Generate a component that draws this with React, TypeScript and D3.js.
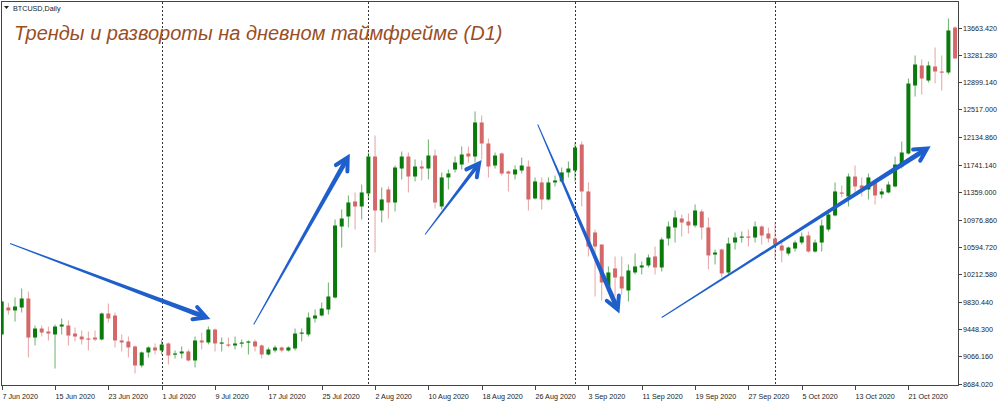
import React from 'react';
import * as d3 from 'd3';

// Daily BTCUSD candles, 7 Jun 2020 .. 28 Oct 2020 (one per day)
const opens = [
  9370, 9747, 9706, 9747, 9873, 9327, 9453, 9411, 9370, 9481, 9495, 9383, 9341, 9314, 9327, 9300,
  9663, 9635, 9286, 9272, 9202, 8936, 9118, 9188, 9146, 9244, 9090, 9104, 9132, 9006, 9286, 9258,
  9439, 9244, 9230, 9216, 9244, 9258, 9272, 9216, 9090, 9146, 9188, 9146, 9174, 9383, 9370, 9593,
  9635, 9719, 9887, 10880, 11020, 11230, 11160, 11342, 11859, 11104, 11398, 11216, 11691, 11859, 11579, 11719,
  11691, 11873, 11160, 11566, 11677, 11747, 11901, 11859, 12335, 12041, 11733, 11901, 11650, 11608, 11663, 11719,
  11272, 11496, 11258, 11496, 11510, 11636, 11663, 12027, 11370, 10796, 10628, 10041, 10293, 10181, 9985, 10237,
  10307, 10335, 10461, 10307, 10712, 10866, 10992, 10950, 10894, 11090, 10866, 10488, 10558, 10237, 10656, 10726,
  10740, 10726, 10880, 10782, 10712, 10614, 10502, 10572, 10656, 10754, 10530, 10656, 10838, 11034, 11356, 11300,
  11579, 11454, 11398, 11496, 11328, 11356, 11440, 11719, 11901, 12852, 13132, 12922, 13118, 13048, 13034, 13663,
];
const highs = [
  9845, 9809, 9887, 10013, 9971, 9495, 9495, 9481, 9509, 9593, 9565, 9467, 9425, 9411, 9425, 9677,
  9803, 9677, 9370, 9341, 9216, 9132, 9202, 9244, 9300, 9258, 9146, 9202, 9160, 9341, 9397, 9481,
  9453, 9327, 9327, 9341, 9300, 9286, 9300, 9230, 9188, 9216, 9202, 9202, 9453, 9453, 9677, 9719,
  9817, 10097, 10978, 11118, 11314, 11356, 11467, 11915, 12153, 11426, 11440, 11733, 11929, 11915, 11817, 11803,
  12097, 11957, 11636, 11677, 11859, 11999, 11999, 12489, 12433, 12111, 11915, 11915, 11663, 11733, 11845, 11803,
  11566, 11566, 11566, 11593, 11705, 11789, 12055, 12069, 11496, 10838, 10628, 10321, 10460, 10460, 10349, 10503,
  10391, 10489, 10600, 10726, 10950, 11104, 11048, 11062, 11188, 11118, 11006, 10558, 10572, 10726, 10796, 10810,
  10838, 10950, 10894, 10866, 10936, 10656, 10600, 10684, 10796, 10810, 10698, 10978, 11118, 11496, 11454, 11621,
  11733, 11566, 11621, 11510, 11412, 11510, 11859, 12069, 12950, 13272, 13216, 13188, 13384, 13272, 13789, 13680,
];
const lows = [
  9355, 9649, 9551, 9677, 9048, 9216, 9341, 9286, 8894, 9370, 9216, 9272, 9230, 9146, 9272, 9286,
  9537, 9188, 9132, 9048, 8824, 8908, 9048, 9090, 9090, 8950, 9034, 9034, 8992, 8908, 9160, 9230,
  9132, 9132, 9188, 9160, 9188, 9090, 9132, 9034, 9076, 9118, 9118, 9132, 9146, 9272, 9341, 9537,
  9621, 9649, 9873, 10586, 10866, 10838, 10978, 11258, 10516, 10936, 10992, 11090, 11538, 11356, 11510, 11524,
  11538, 11132, 11118, 11398, 11636, 11677, 11775, 11775, 11817, 11565, 11691, 11593, 11370, 11538, 11621, 11104,
  11258, 11118, 11244, 11440, 11496, 11566, 11510, 11160, 10460, 9901, 9845, 9971, 9901, 9929, 9831, 10209,
  10209, 10307, 10209, 10251, 10614, 10656, 10740, 10782, 10866, 10698, 10279, 10349, 10167, 10209, 10558, 10656,
  10600, 10656, 10628, 10656, 10419, 10377, 10475, 10530, 10628, 10516, 10516, 10530, 10810, 11020, 11286, 11160,
  11356, 11300, 11258, 11188, 11272, 11342, 11426, 11691, 11887, 12698, 12726, 12894, 12880, 12782, 13006, 13230,
];
const closes = [
  9831, 9706, 9761, 9873, 9327, 9453, 9397, 9383, 9481, 9509, 9355, 9341, 9300, 9300, 9300, 9663,
  9593, 9286, 9258, 9188, 8936, 9118, 9188, 9146, 9230, 9076, 9104, 9132, 9006, 9286, 9258, 9439,
  9244, 9258, 9216, 9244, 9258, 9272, 9202, 9090, 9160, 9188, 9146, 9188, 9383, 9397, 9607, 9635,
  9733, 9901, 10894, 10992, 11216, 11160, 11356, 11859, 11104, 11258, 11216, 11705, 11859, 11579, 11719, 11691,
  11873, 11216, 11566, 11622, 11775, 11887, 11859, 12335, 12041, 11719, 11873, 11621, 11621, 11677, 11733, 11258,
  11510, 11258, 11496, 11524, 11636, 11691, 11985, 11370, 10600, 10600, 10097, 10237, 10167, 10013, 10265, 10321,
  10335, 10447, 10307, 10698, 10880, 11006, 10936, 10894, 11104, 10866, 10475, 10516, 10223, 10642, 10726, 10740,
  10726, 10880, 10754, 10712, 10628, 10544, 10586, 10656, 10740, 10530, 10656, 10894, 11048, 11370, 11342, 11579,
  11440, 11412, 11566, 11314, 11370, 11467, 11747, 11915, 12880, 13146, 12950, 13132, 13048, 13034, 13622, 13230,
];

const xTickLabels = [
  '7 Jun 2020', '15 Jun 2020', '23 Jun 2020', '1 Jul 2020', '9 Jul 2020', '17 Jul 2020',
  '25 Jul 2020', '2 Aug 2020', '10 Aug 2020', '18 Aug 2020', '26 Aug 2020', '3 Sep 2020',
  '11 Sep 2020', '19 Sep 2020', '27 Sep 2020', '5 Oct 2020', '13 Oct 2020', '21 Oct 2020',
];
const xTickIndex = [0, 8, 16, 24, 32, 40, 48, 56, 64, 72, 80, 88, 96, 104, 112, 120, 128, 136];
const yTickLabels = [
  '13663.420', '13281.280', '12899.140', '12517.000', '12134.860', '11741.140', '11359.000',
  '10976.860', '10594.720', '10212.580', '9830.440', '9448.300', '9066.160', '8684.020',
];
// period separators (first day of each month), as bar index
const monthStarts = [24, 55, 86, 116];

// hand-drawn trend arrows: [bar index, price]
const arrowFrom = [[1.25, 10642], [37.8, 9509], [63.5, 10768], [80.4, 12307], [99.0, 9607]];
const arrowTo = [[30.7, 9607], [51.9, 11845], [71.6, 11761], [92.4, 9719], [138.8, 11971]];
const arrowWidth = [5, 5, 4, 5, 5];

const TITLE = 'Тренды и развороты на дневном таймфрейме (D1)';

export default function App() {
  const W = 1000;
  const H = 405;
  const plotL = 2;
  const plotR = 958;
  const plotT = 2;
  const plotB = 385;

  const n = opens.length;
  const x = d3.scaleLinear().domain([0, n - 1]).range([1.7, 1.7 + (n - 1) * 6.667]);
  const y = d3.scaleLinear().domain([8684.02, 13663.42]).range([383.5, 27.5]);
  const bodyW = 4;

  const green = '#0a7a0a';
  const red = '#d46868';
  const blue = '#1f5fcc';

  const arrows = arrowFrom.map((s, k) => {
    const sx = x(s[0]), sy = y(s[1]);
    const ex = x(arrowTo[k][0]), ey = y(arrowTo[k][1]);
    const dx = ex - sx, dy = ey - sy;
    const len = Math.hypot(dx, dy);
    const ux = dx / len, uy = dy / len;
    const nx = -uy, ny = ux;
    const w = arrowWidth[k];
    const bx = ex - ux * 3, by = ey - uy * 3;
    const shaft = [
      [sx + nx * 0.5, sy + ny * 0.5],
      [bx + nx * w / 2, by + ny * w / 2],
      [bx - nx * w / 2, by - ny * w / 2],
      [sx - nx * 0.5, sy - ny * 0.5],
    ];
    const ang = (28 * Math.PI) / 180;
    const L = 14;
    const rot = (a: number) => [
      -(ux * Math.cos(a) - uy * Math.sin(a)),
      -(ux * Math.sin(a) + uy * Math.cos(a)),
    ];
    const b1 = rot(ang), b2 = rot(-ang);
    return {
      shaft: shaft.map((p) => p.join(',')).join(' '),
      ex, ey,
      h1: [ex + b1[0] * L, ey + b1[1] * L],
      h2: [ex + b2[0] * L, ey + b2[1] * L],
    };
  });

  const axisFont = '"Liberation Sans", Arial, sans-serif';

  return (
    <svg
      width={W}
      height={H}
      style={{ position: 'absolute', left: 0, top: 0, background: '#fff' }}
      fontFamily={axisFont}
    >
      <defs>
        <clipPath id="plotClip">
          <rect x={plotL} y={plotT} width={plotR - plotL} height={plotB - plotT} />
        </clipPath>
      </defs>
      <rect x={0} y={0} width={W} height={H} fill="#fff" />

      {/* period separators */}
      {monthStarts.map((m) => (
        <line
          key={'sep' + m}
          x1={Math.round(x(m)) + 0.5}
          x2={Math.round(x(m)) + 0.5}
          y1={plotT}
          y2={plotB}
          stroke="#333"
          strokeWidth={1}
          strokeDasharray="2,2"
        />
      ))}

      {/* candles */}
      <g clipPath="url(#plotClip)">
        {opens.map((o, i) => {
          const c = closes[i];
          const up = c >= o;
          const col = up ? green : red;
          const cx = x(i);
          const yTop = y(Math.max(o, c));
          const yBot = y(Math.min(o, c));
          return (
            <g key={'c' + i}>
              <line
                x1={cx}
                x2={cx}
                y1={y(highs[i])}
                y2={y(lows[i])}
                stroke={col}
                strokeOpacity={0.6}
                strokeWidth={1}
              />
              <rect
                x={cx - bodyW / 2}
                y={yTop}
                width={bodyW}
                height={Math.max(1.2, yBot - yTop)}
                fill={col}
              />
            </g>
          );
        })}

        {/* arrows */}
        {arrows.map((a, k) => (
          <g key={'a' + k}>
            <polygon points={a.shaft} fill={blue} />
            <polyline
              points={`${a.h1[0]},${a.h1[1]} ${a.ex},${a.ey} ${a.h2[0]},${a.h2[1]}`}
              fill="none"
              stroke={blue}
              strokeWidth={4}
              strokeLinecap="round"
              strokeLinejoin="miter"
            />
          </g>
        ))}
      </g>

      {/* frame */}
      <rect
        x={plotL - 0.5}
        y={plotT - 0.5}
        width={plotR - plotL + 1}
        height={plotB - plotT + 1}
        fill="none"
        stroke="#444"
        strokeWidth={1}
      />

      {/* right axis */}
      {yTickLabels.map((t) => {
        const yy = Math.round(y(parseFloat(t))) + 0.5;
        return (
          <g key={'y' + t}>
            <line x1={plotR + 0.5} x2={plotR + 4} y1={yy} y2={yy} stroke="#444" />
            <text x={plotR + 5} y={yy} dy="0.35em" fontSize={7.2} fill="#222">
              {t}
            </text>
          </g>
        );
      })}

      {/* bottom axis */}
      {xTickLabels.map((t, k) => {
        const xx = Math.round(x(xTickIndex[k])) + 0.5;
        return (
          <g key={'x' + t}>
            <line x1={xx} x2={xx} y1={plotB + 0.5} y2={plotB + 5} stroke="#444" />
            <text x={xx} y={399} fontSize={7.2} fill="#222">
              {t}
            </text>
          </g>
        );
      })}

      {/* header */}
      <path d="M4,6 L9,6 L6.5,9 Z" fill="#222" />
      <text x={13} y={10.5} fontSize={7.2} fill="#222">
        BTCUSD,Daily
      </text>
      <text
        x={14}
        y={40}
        fontSize={20}
        fontStyle="italic"
        fill="#9a4e1f"
        fontFamily={axisFont}
      >
        {TITLE}
      </text>
    </svg>
  );
}
